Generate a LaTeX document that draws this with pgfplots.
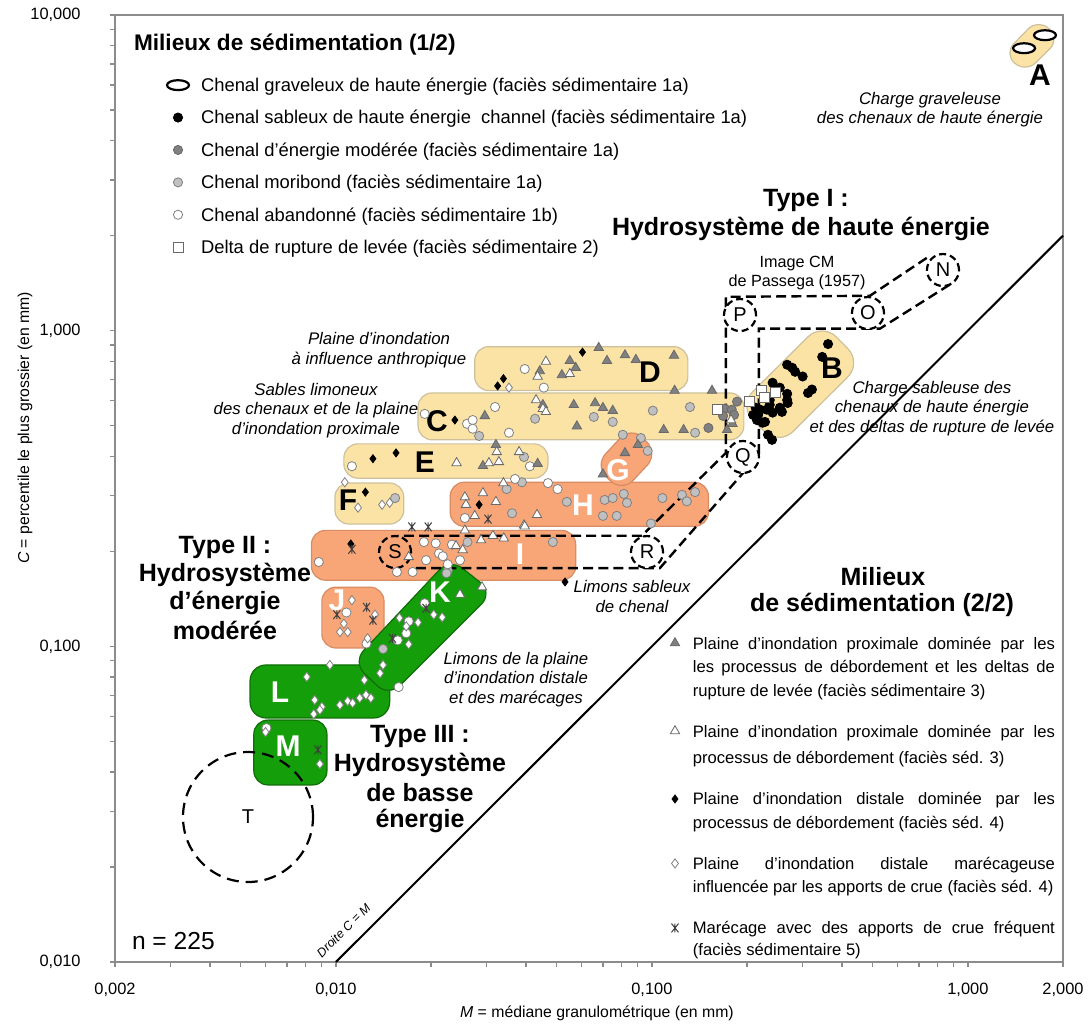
\documentclass[border=0pt]{standalone}
\usepackage{fontspec}
\setmainfont{Liberation Sans}
\usepackage{pgfplots}
\pgfplotsset{compat=1.18}

\definecolor{jaune}{RGB}{251,227,166}
\definecolor{jauneb}{RGB}{205,192,155}
\definecolor{saumon}{RGB}{248,166,120}
\definecolor{saumonb}{RGB}{215,140,100}
\definecolor{vert}{RGB}{20,158,10}
\definecolor{vertb}{RGB}{15,110,8}
\definecolor{gfonce}{RGB}{128,128,128}
\definecolor{gclair}{RGB}{192,192,192}
\definecolor{gbord}{RGB}{105,105,105}
\definecolor{axe}{RGB}{140,140,140}

% marqueurs propres au graphique
\pgfdeclareplotmark{ellipsemark}{%
  \pgfpathellipse{\pgfpointorigin}{\pgfqpoint{\pgfplotmarksize}{0pt}}{\pgfqpoint{0pt}{0.45\pgfplotmarksize}}%
  \pgfusepathqfillstroke}
\pgfdeclareplotmark{etoilex}{%
  \pgfpathmoveto{\pgfqpoint{-0.8\pgfplotmarksize}{-\pgfplotmarksize}}%
  \pgfpathlineto{\pgfqpoint{0.8\pgfplotmarksize}{\pgfplotmarksize}}%
  \pgfpathmoveto{\pgfqpoint{-0.8\pgfplotmarksize}{\pgfplotmarksize}}%
  \pgfpathlineto{\pgfqpoint{0.8\pgfplotmarksize}{-\pgfplotmarksize}}%
  \pgfpathmoveto{\pgfqpoint{0pt}{-\pgfplotmarksize}}%
  \pgfpathlineto{\pgfqpoint{0pt}{\pgfplotmarksize}}%
  \pgfusepathqstroke}

\tikzset{
  rond/.style={circle, draw=black, line width=1.1pt, dash pattern=on 3.5pt off 2pt,
    minimum size=16pt, inner sep=0pt, font=\fontsize{10}{10}\selectfont},
  lettre/.style={font=\fontsize{15}{15}\selectfont\bfseries},
  gros/.style={font=\fontsize{12.5}{13}\selectfont\bfseries},
  comm/.style={align=center, font=\fontsize{8.4}{9.8}\selectfont\itshape},
}
\newcommand{\jl}[1]{\makebox[181pt][s]{#1}}

\begin{document}
\begin{tikzpicture}
\begin{axis}[width=474pt, height=473.5pt, scale only axis,
  xmode=log, ymode=log, xmin=0.002, xmax=2, ymin=0.01, ymax=10, clip=false,
  axis line style={draw=axe, line width=0.7pt},
  tick style={draw=axe, line width=0.7pt},
  tick align=outside, tick pos=left,
  major tick length=2.5pt, minor tick length=2.5pt,
  xtick={0.002,0.01,0.1,1,2},
  xticklabels={{0,002},{0,010},{0,100},{1,000},{2,000}},
  ytick={0.01,0.1,1,10},
  yticklabels={{0,010},{0,100},{1,000},{10,000}},
  minor xtick={0.003,0.004,0.005,0.006,0.007,0.008,0.009,0.02,0.03,0.04,0.05,0.06,0.07,0.08,0.09,0.2,0.3,0.4,0.5,0.6,0.7,0.8,0.9},
  minor ytick={0.02,0.03,0.04,0.05,0.06,0.07,0.08,0.09,0.2,0.3,0.4,0.5,0.6,0.7,0.8,0.9,2,3,4,5,6,7,8,9},
  xticklabel style={font=\fontsize{8.2}{9}\selectfont, anchor=north, inner sep=0pt},
  yticklabel style={font=\fontsize{8.2}{9}\selectfont, anchor=east, inner sep=0pt},
  xticklabel shift=8pt, yticklabel shift=14.5pt,
  xlabel={\textit{M} = médiane granulométrique (en mm)},
  ylabel={\textit{C} = percentile le plus grossier (en mm)},
  xlabel style={at={(axis description cs:0.5084,-0.0539)}, anchor=center, font=\fontsize{7.9}{9}\selectfont},
  ylabel style={at={(axis description cs:-0.0949,0.5639)}, anchor=center, font=\fontsize{7.9}{9}\selectfont},
  legend image code/.code={\path[draw=none, fill=none] (0pt,3.2pt) -- (14.2pt,3.2pt); \draw[#1] plot coordinates {(7.1pt,3.2pt)};},
  legend style={at={(0.0515,0.9331)}, anchor=north west, draw=none, fill=none,
    inner sep=0pt, outer sep=0pt, row sep=7.7pt, column sep=4.4pt,
    font=\fontsize{9.2}{11}\selectfont, cells={anchor=base west},
    nodes={inner sep=0pt, text height=6.6pt, text depth=1.9pt}},
]
% zones
\addplot[forget plot, line width=0.6pt, fill=jaune, draw=jauneb, rounded corners=7pt] coordinates {(0.0275,0.646)(0.130,0.646)(0.130,0.890)(0.0275,0.890)} -- cycle;
\addplot[forget plot, line width=0.6pt, fill=jaune, draw=jauneb, rounded corners=7pt] coordinates {(0.0182,0.451)(0.1955,0.451)(0.1955,0.635)(0.0182,0.635)} -- cycle;
\addplot[forget plot, line width=0.6pt, fill=jaune, draw=jauneb, rounded corners=7pt] coordinates {(0.0106,0.341)(0.0469,0.341)(0.0469,0.438)(0.0106,0.438)} -- cycle;
\addplot[forget plot, line width=0.6pt, fill=jaune, draw=jauneb, rounded corners=7pt] coordinates {(0.00993,0.244)(0.0164,0.244)(0.0164,0.329)(0.00993,0.329)} -- cycle;
\addplot[forget plot, line width=0.6pt, fill=saumon, draw=saumonb, rounded corners=7pt] coordinates {(0.0230,0.240)(0.151,0.240)(0.151,0.331)(0.0230,0.331)} -- cycle;
\addplot[forget plot, line width=0.6pt, fill=saumon, draw=saumonb, rounded corners=8pt] coordinates {(0.0659,0.374)(0.0805,0.308)(0.1047,0.408)(0.0861,0.498)} -- cycle;
\addplot[forget plot, line width=0.6pt, fill=saumon, draw=saumonb, rounded corners=7pt] coordinates {(0.00837,0.162)(0.0574,0.162)(0.0574,0.233)(0.00837,0.233)} -- cycle;
\addplot[forget plot, line width=0.6pt, fill=saumon, draw=saumonb, rounded corners=7pt] coordinates {(0.00903,0.0988)(0.0142,0.0988)(0.0142,0.154)(0.00903,0.154)} -- cycle;
\addplot[forget plot, line width=0.6pt, fill=vert, draw=vertb, rounded corners=8pt] coordinates {(0.00535,0.0593)(0.0148,0.0593)(0.0148,0.0873)(0.00535,0.0873)} -- cycle;
\addplot[forget plot, line width=0.6pt, fill=vert, draw=vertb, rounded corners=8pt] coordinates {(0.0230,0.190)(0.0314,0.148)(0.0147,0.0692)(0.0113,0.0891)} -- cycle;
\addplot[forget plot, line width=0.6pt, fill=vert, draw=vertb, rounded corners=7pt] coordinates {(0.00550,0.0364)(0.00937,0.0364)(0.00937,0.0584)(0.00550,0.0584)} -- cycle;
\addplot[forget plot, line width=0.6pt, fill=jaune, draw=jauneb, rounded corners=10pt] coordinates {(0.188,0.578)(0.346,1.06)(0.462,0.791)(0.252,0.432)} -- cycle;
\addplot[forget plot, line width=0.6pt, fill=jaune, draw=jauneb, rounded corners=7pt] coordinates {(1.30,7.53)(1.667,9.73)(1.955,8.41)(1.525,6.57)} -- cycle;

% droite C = M
\addplot[forget plot, black, line width=1pt] coordinates {(0.01,0.01)(2,2)};
% image CM de Passega
\addplot[forget plot, black, line width=1.2pt, dash pattern=on 5pt off 2.6pt] coordinates {(0.741,1.70)(0.490,1.29)(0.1715,1.28)(0.1715,0.410)(0.0929,0.224)(0.0157,0.224)};
\addplot[forget plot, black, line width=1.2pt, dash pattern=on 5pt off 2.6pt] coordinates {(0.877,1.40)(0.527,1.015)(0.218,1.015)(0.218,0.404)(0.106,0.177)(0.0175,0.177)};
\node[rond, fill=white] at (rel axis cs:0.8734,0.7307) {N};
\node[rond, fill=white] at (rel axis cs:0.7943,0.6853) {O};
\node[rond, fill=white] at (rel axis cs:0.6593,0.6832) {P};
\node[rond, fill=white] at (rel axis cs:0.6624,0.5333) {Q};
\node[rond, fill=white] at (rel axis cs:0.5612,0.4329) {R};
\node[rond] at (rel axis cs:0.2954,0.4329) {S};
\node[circle, draw=black, line width=1.1pt, dash pattern=on 6pt off 3.5pt, minimum size=65pt, inner sep=0pt,
  font=\fontsize{10}{10}\selectfont] at (rel axis cs:0.1403,0.1531) {T};

% lettres des zones
\node[lettre] at (rel axis cs:0.9757,0.9366) {A};
\node[lettre] at (rel axis cs:0.5643,0.6230) {D};
\node[lettre] at (rel axis cs:0.3397,0.5713) {C};
\node[lettre] at (rel axis cs:0.3270,0.5280) {E};
\node[lettre] at (rel axis cs:0.2458,0.4879) {F};
\node[lettre] at (rel axis cs:0.7563,0.6273) {B};
\node[lettre, white] at (rel axis cs:0.5306,0.5195) {G};
\node[lettre, white] at (rel axis cs:0.4937,0.4826) {H};
\node[lettre, white] at (rel axis cs:0.4272,0.4308) {I};
\node[lettre, white] at (rel axis cs:0.2342,0.3823) {J};
\node[lettre, white] at (rel axis cs:0.3428,0.3907) {K};
\node[lettre, white] at (rel axis cs:0.1741,0.2851) {L};
\node[lettre, white] at (rel axis cs:0.1825,0.2281) {M};

% titres
\node[anchor=west, font=\fontsize{11.3}{12}\selectfont\bfseries] at (rel axis cs:0.0127,0.9683) {Milieux de sédimentation (1/2)};
\node[gros] at (rel axis cs:0.7289,0.8036) {Type I :};
\node[gros] at (rel axis cs:0.7236,0.7740) {Hydrosystème de haute énergie};
\node[gros] at (rel axis cs:0.1160,0.4382) {Type II :};
\node[gros] at (rel axis cs:0.1160,0.4087) {Hydrosystème};
\node[gros] at (rel axis cs:0.1160,0.3791) {d’énergie};
\node[gros] at (rel axis cs:0.1160,0.3506) {modérée};
\node[gros] at (rel axis cs:0.3217,0.2377) {Type III :};
\node[gros] at (rel axis cs:0.3217,0.2080) {Hydrosystème};
\node[gros] at (rel axis cs:0.3217,0.1784) {de basse};
\node[gros] at (rel axis cs:0.3217,0.1488) {énergie};
\node[gros] at (rel axis cs:0.8101,0.4065) {Milieux};
\node[gros] at (rel axis cs:0.8091,0.3770) {de sédimentation (2/2)};
\node[anchor=west, font=\fontsize{12.3}{13}\selectfont] at (rel axis cs:0.0105,0.0222) {n = 225};

% commentaires
\node[comm] at (rel axis cs:0.8597,0.9002) {Charge graveleuse\\des chenaux de haute énergie};
\node[comm] at (rel axis cs:0.2785,0.6458) {Plaine d’inondation\\à influence anthropique};
\node[comm] at (rel axis cs:0.2120,0.5824) {Sables limoneux\\des chenaux et de la plaine\\d’inondation proximale};
\node[comm] at (rel axis cs:0.8618,0.5847) {Charge sableuse des\\chenaux de haute énergie\\et des deltas de rupture de levée};
\node[comm] at (rel axis cs:0.5454,0.3860) {Limons sableux\\de chenal};
\node[comm] at (rel axis cs:0.4230,0.2985) {Limons de la plaine\\d’inondation distale\\et des marécages};
\node[align=center, font=\fontsize{8.1}{9.8}\selectfont] at (rel axis cs:0.7194,0.7276) {Image CM\\de Passega (1957)};
\node[rotate=45, font=\fontsize{6.2}{7}\selectfont\itshape] at (rel axis cs:0.2410,0.0335) {Droite C = M};

% milieux de sedimentation (1/2)
\addplot[only marks, mark=ellipsemark, mark size=5.5pt, draw=black, fill=white, line width=1.1pt]
  coordinates {(1.506,7.85)(1.754,8.63)};
\addlegendentry{Chenal graveleux de haute énergie (faciès sédimentaire 1a)}
\addplot[only marks, mark=*, mark size=2.3pt, draw=black, fill=black, line width=0.4pt]
  coordinates {(0.361,0.907)(0.346,0.826)(0.268,0.780)(0.278,0.763)(0.284,0.741)(0.300,0.716)(0.321,0.651)
  (0.312,0.635)(0.241,0.684)(0.254,0.660)(0.268,0.631)(0.269,0.590)(0.254,0.570)(0.236,0.582)(0.220,0.562)
  (0.217,0.541)(0.228,0.514)(0.241,0.550)(0.213,0.570)(0.233,0.468)(0.240,0.451)(0.215,0.521)(0.224,0.511)
  (0.209,0.541)(0.231,0.562)(0.258,0.553)(0.268,0.603)(0.236,0.603)};
\addlegendentry{Chenal sableux de haute énergie\ \ channel (faciès sédimentaire 1a)}
\addplot[only marks, mark=*, mark size=2.3pt, draw=gbord, fill=gfonce, line width=0.4pt]
  coordinates {(0.151,0.492)(0.170,0.566)(0.168,0.537)(0.179,0.562)(0.186,0.596)(0.182,0.541)};
\addlegendentry{Chenal d’énergie modérée (faciès sédimentaire 1a)}
\addplot[only marks, mark=*, mark size=2.3pt, draw=gfonce, fill=gclair, line width=0.4pt]
  coordinates {(0.0284,0.464)(0.0427,0.526)(0.0655,0.533)(0.0752,0.514)(0.1007,0.558)(0.132,0.573)(0.137,0.475)
  (0.0394,0.398)(0.0154,0.295)(0.0809,0.468)(0.0923,0.457)(0.0970,0.416)(0.0347,0.315)(0.0388,0.331)
  (0.0361,0.264)(0.0538,0.287)(0.0709,0.291)(0.0752,0.295)(0.0815,0.304)(0.0834,0.285)(0.0700,0.259)
  (0.0774,0.259)(0.108,0.295)(0.1245,0.302)(0.129,0.288)(0.137,0.308)(0.0993,0.245)(0.0261,0.214)
  (0.0486,0.214)(0.0226,0.174)(0.0141,0.0981)(0.0224,0.1705)};
\addlegendentry{Chenal moribond (faciès sédimentaire 1a)}
\addplot[only marks, mark=*, mark size=2.3pt, draw=gfonce, fill=white, line width=0.4pt]
  coordinates {(0.0396,0.756)(0.0455,0.660)(0.0191,0.545)(0.0260,0.507)(0.0271,0.521)(0.0271,0.489)
  (0.0319,0.573)(0.0353,0.475)(0.01124,0.372)(0.0411,0.372)(0.0369,0.339)(0.0469,0.329)(0.0503,0.315)
  (0.0256,0.255)(0.00883,0.185)(0.0190,0.214)(0.0207,0.212)(0.0233,0.210)(0.0193,0.1875)(0.0212,0.197)
  (0.0218,0.193)(0.0247,0.1875)(0.0156,0.172)(0.0175,0.172)(0.0191,0.137)(0.0170,0.120)(0.0167,0.110)
  (0.0157,0.1045)(0.0158,0.0743)(0.0226,0.182)(0.0108,0.128)(0.0125,0.102)(0.00603,0.0551)};
\addlegendentry{Chenal abandonné (faciès sédimentaire 1b)}
\addplot[only marks, mark=square*, mark size=2.5pt, draw=gbord, fill=white, line width=0.5pt]
  coordinates {(0.161,0.562)(0.203,0.596)(0.223,0.646)(0.228,0.612)(0.247,0.635)};
\addlegendentry{Delta de rupture de levée (faciès sédimentaire 2)}
\end{axis}

\begin{axis}[width=474pt, height=473.5pt, scale only axis,
  xmode=log, ymode=log, xmin=0.002, xmax=2, ymin=0.01, ymax=10, clip=false, hide axis,
  legend image code/.code={\path[draw=none, fill=none] (0pt,3pt) -- (11.3pt,3pt); \draw[#1] plot coordinates {(5.65pt,3pt)};},
  legend style={at={(0.5788,0.3442)}, anchor=north west, draw=none, fill=none,
    inner sep=0pt, outer sep=0pt, row sep=12pt, column sep=3.3pt,
    font=\fontsize{8.3}{11.75}\selectfont, cells={anchor=base west}, nodes={inner sep=0pt, text depth=}},
]
\addplot[only marks, mark=triangle*, mark size=2.7pt, draw=gbord, fill=gfonce, line width=0.4pt]
  coordinates {(0.0679,0.883)(0.0822,0.837)(0.0890,0.809)(0.1175,0.834)(0.0721,0.803)(0.0550,0.803)
  (0.0574,0.763)(0.0442,0.745)(0.0519,0.724)(0.118,0.646)(0.155,0.646)(0.0296,0.537)(0.0452,0.582)
  (0.0566,0.582)(0.0661,0.590)(0.0700,0.570)(0.0752,0.558)(0.0579,0.498)(0.109,0.485)(0.126,0.485)
  (0.173,0.485)(0.180,0.507)(0.0292,0.373)(0.0321,0.435)(0.0435,0.379)(0.0903,0.435)(0.0822,0.410)
  (0.0700,0.351)};
\addlegendentry{\parbox[t]{181pt}{\rule{0pt}{6.5pt}\jl{Plaine d’inondation proximale dominée par les}\\\jl{les processus de débordement et les deltas de}\\rupture de levée (faciès sédimentaire 3)\rule[-2pt]{0pt}{2pt}}}
\addplot[only marks, mark=triangle*, mark size=2.7pt, draw=gbord, fill=white, line width=0.4pt]
  coordinates {(0.0462,0.799)(0.0435,0.716)(0.0550,0.730)(0.0430,0.603)(0.0452,0.566)(0.0462,0.553)
  (0.0241,0.381)(0.0305,0.381)(0.0328,0.384)(0.0323,0.413)(0.0380,0.413)(0.0339,0.329)(0.0292,0.306)
  (0.0321,0.287)(0.0256,0.297)(0.0258,0.281)(0.0275,0.259)(0.0433,0.261)(0.0394,0.242)(0.0170,0.192)
  (0.0240,0.208)(0.0252,0.202)(0.0256,0.233)(0.0288,0.217)(0.0314,0.224)(0.0340,0.220)(0.0396,0.240)
  (0.0290,0.154)(0.0247,0.146)(0.178,0.521)};
\addlegendentry{\parbox[t]{181pt}{\rule{0pt}{6.5pt}\jl{Plaine d’inondation proximale dominée par les}\\[1.7pt]processus de débordement (faciès séd. 3)\rule[-2pt]{0pt}{2pt}}}
\addplot[only marks, mark=diamond*, mark size=2pt, draw=black, fill=black, line width=0.4pt]
  coordinates {(0.0603,0.855)(0.0339,0.705)(0.0325,0.668)(0.0238,0.521)(0.0131,0.393)(0.0155,0.410)
  (0.0124,0.308)(0.0284,0.281)(0.01115,0.211)(0.0531,0.160)};
\addlegendentry{\parbox[t]{181pt}{\rule{0pt}{6.5pt}\jl{Plaine d’inondation distale dominée par les}\\processus de débordement (faciès séd. 4)\rule[-2pt]{0pt}{2pt}}}
\addplot[only marks, mark=diamond*, mark size=2.3pt, draw=gfonce, fill=white, line width=0.4pt]
  coordinates {(0.0353,0.660)(0.01067,0.331)(0.01175,0.275)(0.0140,0.281)(0.0148,0.285)(0.01124,0.140)
  (0.0133,0.126)(0.0106,0.118)(0.0103,0.111)(0.0109,0.111)(0.0126,0.106)(0.0204,0.126)(0.0217,0.1236)
  (0.0182,0.119)(0.0159,0.123)(0.0167,0.1157)(0.0170,0.1015)(0.0141,0.0873)(0.0138,0.0822)(0.0123,0.0782)
  (0.00957,0.0873)(0.00809,0.0800)(0.00857,0.0676)(0.00903,0.0643)(0.00890,0.0629)(0.00851,0.0610)
  (0.0103,0.0652)(0.0109,0.0671)(0.0113,0.0661)(0.0119,0.0686)(0.01245,0.0702)(0.0129,0.0686)
  (0.00599,0.0535)(0.0089,0.0424)};
\addlegendentry{\parbox[t]{181pt}{\rule{0pt}{6.5pt}\jl{Plaine d’inondation distale marécageuse}\\influencée par les apports de crue (faciès séd. 4)\rule[-2pt]{0pt}{2pt}}}
\addplot[only marks, mark=etoilex, mark size=2.2pt, draw=black!75, line width=0.5pt]
  coordinates {(0.0303,0.253)(0.0174,0.239)(0.0196,0.239)(0.01124,0.203)(0.0125,0.133)(0.01007,0.126)
  (0.0131,0.121)(0.0193,0.132)(0.0151,0.106)(0.00877,0.0470)};
\addlegendentry{\parbox[t]{181pt}{\rule{0pt}{6.5pt}\jl{Marécage avec des apports de crue fréquent}\\[-1pt](faciès sédimentaire 5)\rule[-2pt]{0pt}{2pt}}}
\end{axis}
\pgfresetboundingbox
\path[use as bounding box] (-57.5pt,-33pt) rectangle (488.5pt,481pt);
\end{tikzpicture}
\end{document}
